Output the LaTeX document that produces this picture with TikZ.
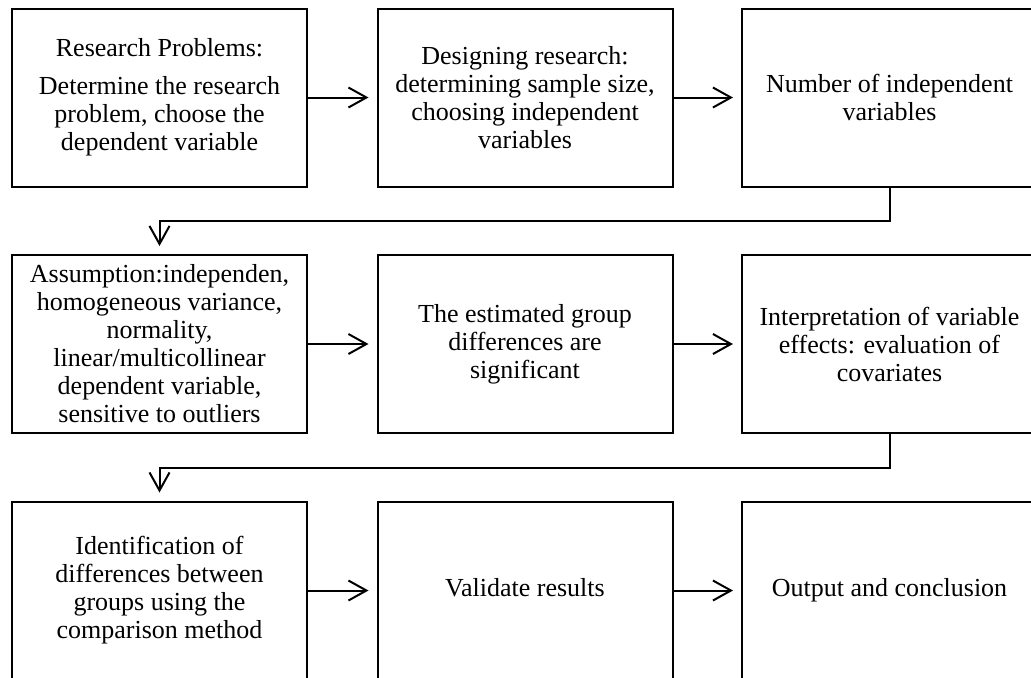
\documentclass[tikz,border=0pt]{standalone}
\usepackage{fontspec}
\setmainfont{Liberation Serif}
\usetikzlibrary{arrows.meta}
\begin{document}
\begin{tikzpicture}[x=0.5pt,y=-0.5pt,
  box/.style={draw,line width=1pt,minimum width=147.5pt,minimum height=89pt,
    align=center,inner sep=2pt,font=\fontsize{13}{14}\selectfont},
  conn/.style={line width=1pt,-{Straight Barb[length=9pt,width=10pt,line width=1pt]}}]
\clip (0,0) rectangle (1031,677);
\fill[white] (0,0) rectangle (1031,677);
\node[box] (b1) at (159.5,97.5) {Research Problems:\\[5pt]Determine the research\\problem, choose the\\dependent variable};
\node[box] (b2) at (525,97.5) {Designing research:\\determining sample size,\\choosing independent\\variables};
\node[box] (b3) at (889.5,97.5) {Number of independent\\variables};
\node[box] (b4) at (159.5,344) {Assumption:independen,\\homogeneous variance,\\normality,\\linear/multicollinear\\dependent variable,\\sensitive to outliers};
\node[box] (b5) at (525,344) {The estimated group\\differences are\\significant};
\node[box] (b6) at (889.5,344) {Interpretation of variable\\effects: evaluation of\\covariates};
\node[box] (b7) at (159.5,590.5) {Identification of\\differences between\\groups using the\\comparison method};
\node[box] (b8) at (525,590.5) {\strut Validate results};
\node[box] (b9) at (889.5,590.5) {\strut Output and conclusion};
\draw[conn] (b1.east) -- ([xshift=-4pt]b2.west);
\draw[conn] (b2.east) -- ([xshift=-4pt]b3.west);
\draw[conn] (b3.south) -- ++(0,33) -| ([yshift=4pt]b4.north);
\draw[conn] (b4.east) -- ([xshift=-4pt]b5.west);
\draw[conn] (b5.east) -- ([xshift=-4pt]b6.west);
\draw[conn] (b6.south) -- ++(0,34) -| ([yshift=4pt]b7.north);
\draw[conn] (b7.east) -- ([xshift=-4pt]b8.west);
\draw[conn] (b8.east) -- ([xshift=-4pt]b9.west);
\end{tikzpicture}
\end{document}
